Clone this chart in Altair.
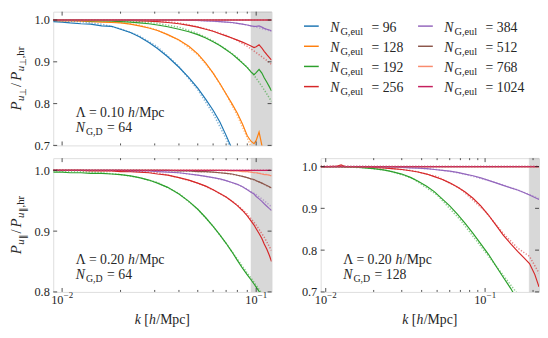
import altair as alt
import pandas as pd

NAN = float("nan")
FONT = "Liberation Serif"
INK = "#262626"

SERIES = ["96", "128", "192", "256", "384", "512", "768", "1024"]
COLORS = ["#1f77b4", "#ff7f0e", "#2ca02c", "#d62728", "#9467bd", "#8c564b", "#f98b6e", "#c51f5d"]

# ---------------- k grids ----------------
K_A = [0.009, 0.010, 0.011, 0.0125, 0.014, 0.016, 0.018, 0.020, 0.0225, 0.025, 0.028, 0.031,
       0.035, 0.040, 0.045, 0.050, 0.055, 0.060, 0.065, 0.070, 0.075, 0.080, 0.085, 0.090,
       0.094, 0.0975, 0.100, 0.1035, 0.107, 0.110, 0.1135, 0.117, 0.120]
K_DOT_A = [0.009, 0.0125, 0.016, 0.02, 0.025, 0.031, 0.04, 0.05, 0.06, 0.07, 0.08, 0.09, 0.1, 0.11, 0.12]
K_FLAT_A = [0.009, 0.015, 0.03, 0.06, 0.12]

K_B = [0.0093, 0.0105, 0.0118, 0.0125, 0.0132, 0.015, 0.0175, 0.020, 0.023, 0.026, 0.030, 0.034,
       0.038, 0.043, 0.048, 0.054, 0.060, 0.067, 0.075, 0.084, 0.094, 0.105, 0.117, 0.130,
       0.145, 0.160, 0.175, 0.190, 0.205, 0.218]
K_DOT_B = [0.0093, 0.013, 0.018, 0.025, 0.035, 0.05, 0.07, 0.1, 0.13, 0.16, 0.19, 0.218]
K_FLAT_B = [0.0093, 0.02, 0.05, 0.1, 0.218]

FLAT5 = [1.0, 1.0, 1.0, 1.0, 1.0]

# ---------------- panel 1: Lambda=0.10, N_G,D=64 ----------------
P1_96 = [0.996, 0.995, 0.993, 0.991, 0.990, 0.986, 0.985, 0.978, 0.970, 0.960, 0.946, 0.932,
         0.912, 0.887, 0.862, 0.837, 0.810, 0.784, 0.756, 0.724, 0.692, NAN, NAN, NAN,
         NAN, NAN, NAN, NAN, NAN, NAN, NAN, NAN, NAN]
P1_128 = [0.999, 0.998, 0.998, 0.997, 0.996, 0.995, 0.994, 0.993, 0.990, 0.986, 0.981, 0.975,
          0.965, 0.952, 0.937, 0.919, 0.897, 0.873, 0.848, 0.823, 0.800, 0.777, 0.751, 0.723,
          0.710, 0.704, 0.712, 0.732, 0.700, 0.684, NAN, NAN, NAN]
P1_192 = [1.000, 1.000, 0.999, 0.999, 0.998, 0.998, 0.997, 0.996, 0.995, 0.993, 0.991, 0.988,
          0.984, 0.978, 0.972, 0.965, 0.957, 0.948, 0.939, 0.929, 0.919, 0.908, 0.897, 0.886,
          0.876, 0.869, 0.874, 0.882, 0.873, 0.862, 0.851, 0.840, 0.830]
P1_256 = [1.000, 1.000, 1.000, 1.000, 1.000, 0.999, 0.999, 0.999, 0.999, 0.998, 0.997, 0.996,
          0.994, 0.991, 0.987, 0.983, 0.978, 0.973, 0.967, 0.962, 0.957, 0.952, 0.947, 0.942,
          0.938, 0.934, 0.936, 0.941, 0.933, 0.925, 0.917, 0.910, 0.904]
P1_384 = [1.000, 1.000, 1.000, 1.000, 1.000, 1.000, 1.000, 1.000, 1.000, 1.000, 1.000, 1.000,
          1.000, 1.000, 0.999, 0.999, 0.998, 0.997, 0.996, 0.995, 0.994, 0.992, 0.990, 0.988,
          0.986, 0.985, 0.985, 0.986, 0.983, 0.980, 0.978, 0.976, 0.974]

P1D_96 = [0.999, 0.996, 0.990, 0.979, 0.962, 0.936, 0.889, 0.833, 0.776, 0.716, 0.655, NAN, NAN, NAN, NAN]
P1D_128 = [1.000, 0.999, 0.997, 0.994, 0.988, 0.976, 0.952, 0.917, 0.873, 0.823, 0.771, 0.718, 0.665, NAN, NAN]
P1D_192 = [1.000, 1.000, 0.999, 0.998, 0.996, 0.992, 0.983, 0.968, 0.950, 0.930, 0.910, 0.887, 0.861, 0.833, 0.805]
P1D_256 = [1.000, 1.000, 1.000, 1.000, 0.999, 0.998, 0.993, 0.984, 0.974, 0.963, 0.951, 0.937, 0.922, 0.908, 0.894]
P1D_384 = [1.000, 1.000, 1.000, 1.000, 1.000, 1.000, 1.000, 0.999, 0.997, 0.995, 0.992, 0.988, 0.983, 0.978, 0.973]

# ---------------- panel 2: Lambda=0.20, N_G,D=64 ----------------
P2_192 = [0.997, 0.997, 0.996, 0.996, 0.995, 0.995, 0.994, 0.993, 0.991, 0.988, 0.984, 0.979,
          0.972, 0.961, 0.949, 0.936, 0.922, 0.908, 0.894, 0.880, 0.866, 0.852, 0.839, 0.828,
          0.820, 0.813, 0.808, 0.801, 0.794, 0.787, NAN, NAN, NAN]
P2_256 = [1.000, 1.000, 1.000, 1.000, 0.999, 0.999, 0.999, 0.998, 0.998, 0.997, 0.996, 0.994,
          0.992, 0.988, 0.984, 0.979, 0.974, 0.968, 0.962, 0.956, 0.949, 0.942, 0.934, 0.925,
          0.917, 0.910, 0.904, 0.896, 0.888, 0.879, 0.870, 0.860, 0.850]
P2_384 = [1.000, 1.000, 1.000, 1.000, 1.000, 1.000, 1.000, 1.000, 0.999, 0.999, 0.999, 0.998,
          0.997, 0.996, 0.994, 0.992, 0.990, 0.988, 0.986, 0.983, 0.980, 0.977, 0.973, 0.968,
          0.964, 0.961, 0.957, 0.953, 0.949, 0.945, 0.941, 0.937, 0.934]
P2_512 = [1.000, 1.000, 1.000, 1.000, 1.000, 1.000, 1.000, 1.000, 1.000, 1.000, 1.000, 1.000,
          1.000, 0.999, 0.999, 0.998, 0.998, 0.997, 0.996, 0.995, 0.994, 0.992, 0.990, 0.988,
          0.986, 0.985, 0.983, 0.981, 0.979, 0.977, 0.975, 0.973, 0.971]
P2_768 = [1.000, 1.000, 1.000, 1.000, 1.000, 1.000, 1.000, 1.000, 1.000, 1.000, 1.000, 1.000,
          1.000, 1.000, 1.000, 1.000, 1.000, 1.000, 1.000, 1.000, 0.999, 0.999, 0.998, 0.998,
          0.997, 0.996, 0.996, 0.995, 0.994, 0.993, 0.993, 0.992, 0.991]

P2D_192 = [0.999, 0.998, 0.996, 0.993, 0.988, 0.980, 0.962, 0.936, 0.908, 0.880, 0.854, 0.831, 0.811, 0.792, NAN]
P2D_256 = [1.000, 1.000, 0.999, 0.999, 0.998, 0.996, 0.988, 0.979, 0.968, 0.956, 0.943, 0.928, 0.910, 0.890, 0.868]
P2D_384 = [1.000, 1.000, 1.000, 1.000, 1.000, 0.999, 0.996, 0.992, 0.988, 0.983, 0.977, 0.969, 0.960, 0.950, 0.940]
P2D_512 = [1.000, 1.000, 1.000, 1.000, 1.000, 1.000, 0.999, 0.998, 0.997, 0.995, 0.992, 0.988, 0.983, 0.977, 0.970]
P2D_768 = [1.000, 1.000, 1.000, 1.000, 1.000, 1.000, 1.000, 1.000, 1.000, 0.999, 0.999, 0.998, 0.996, 0.994, 0.992]

# ---------------- panel 3: Lambda=0.20, N_G,D=128 ----------------
P3_192 = [1.000, 1.000, 1.000, 1.000, 0.999, 0.999, 0.997, 0.995, 0.992, 0.988, 0.982, 0.974,
          0.965, 0.953, 0.940, 0.922, 0.906, 0.886, 0.864, 0.840, 0.815, 0.790, 0.762, 0.735,
          0.708, 0.680, NAN, NAN, NAN, NAN]
P3_256 = [1.000, 1.000, 1.001, 1.004, 1.000, 1.000, 0.999, 0.998, 0.997, 0.995, 0.993, 0.990,
          0.987, 0.982, 0.976, 0.969, 0.961, 0.951, 0.939, 0.924, 0.906, 0.884, 0.860, 0.836,
          0.815, 0.797, 0.782, 0.768, 0.742, 0.712]
P3_384 = [1.000, 1.000, 1.000, 1.000, 1.000, 1.000, 1.000, 1.000, 0.999, 0.999, 0.998, 0.997,
          0.996, 0.995, 0.993, 0.991, 0.989, 0.986, 0.982, 0.978, 0.973, 0.967, 0.961, 0.955,
          0.949, 0.944, 0.938, 0.932, 0.926, 0.921]

P3D_192 = [1.000, 0.999, 0.997, 0.990, 0.972, 0.932, 0.872, 0.796, 0.740, 0.695, NAN, NAN]
P3D_256 = [1.000, 1.000, 0.999, 0.996, 0.990, 0.976, 0.947, 0.893, 0.840, 0.805, 0.785, 0.745]
P3D_384 = [1.000, 1.000, 1.000, 0.999, 0.997, 0.993, 0.984, 0.969, 0.956, 0.944, 0.933, 0.923]

X_MAJOR = [0.01, 0.1]
X_LABEL_BASE = ["10", "10"]
X_LABEL_EXP = ["−2", "−1"]
X_MINOR_A = [0.02, 0.03, 0.04, 0.05, 0.06, 0.07, 0.08, 0.09]
X_MINOR_B = [0.02, 0.03, 0.04, 0.05, 0.06, 0.07, 0.08, 0.09, 0.2]
Y_TICKS_A = [0.7, 0.8, 0.9, 1.0]
Y_TICKS_B = [0.8, 0.9, 1.0]

# ---------------- helpers ----------------
CW = {"0": .5, "1": .5, "2": .5, "3": .5, "4": .5, "5": .5, "6": .5, "7": .5, "8": .5, "9": .5,
      ".": .25, " ": .25, "=": .564, "Λ": .722, "h": .5, "/": .278, "M": .889, "p": .5, "c": .444,
      "N": .667, "G": .722, ",": .25, "e": .444, "u": .5, "l": .278, "D": .722, "k": .444,
      "[": .333, "]": .333, "P": .611, "r": .333, "⊥": .75, "∥": .45}


def tw(s, size):
    return size * sum(CW.get(c, .5) for c in s)


def long_df(entries):
    rows = []
    for s, ks, vs in entries:
        for k, v in zip(ks, vs):
            if v == v:
                rows.append({"k": k, "v": v, "s": s})
    return pd.DataFrame(rows)


def text_layer(t, x, y, size, italic=False, angle=0):
    kw = dict(align="left", baseline="alphabetic", font=FONT, fontSize=size, color=INK)
    if italic:
        kw["fontStyle"] = "italic"
    if angle:
        kw["angle"] = angle
    return alt.Chart(pd.DataFrame({"t": [t]})).mark_text(**kw).encode(
        text="t:N", x=alt.value(x), y=alt.value(y))


def hrun(pieces, x0, y0, center=False):
    total = sum(tw(t, s) + g for t, s, it, d, g in pieces)
    x = x0 - total / 2 if center else x0
    out = []
    for t, s, it, d, g in pieces:
        out.append(text_layer(t, x, y0 + d, s, it))
        x += tw(t, s) + g
    return out


def vrun(pieces, xb, yc):
    total = sum(tw(t, s) + g for t, s, it, d, g in pieces)
    y = yc + total / 2
    out = []
    for t, s, it, d, g in pieces:
        out.append(text_layer(t, xb + d, y, s, it, angle=270))
        y -= tw(t, s) + g
    return out


def build_panel(solid, dotted, kdom, ydom, band, yticks, xminor, lam, ngd, ysym,
                show_xlab, W, H):
    xs = alt.Scale(type="log", domain=kdom, nice=False)
    ys = alt.Scale(domain=ydom, nice=False, zero=False)
    cs = alt.Scale(domain=SERIES, range=COLORS)
    xaxis = alt.Axis(values=X_MAJOR, ticks=False, domain=False, grid=False, title=None,
                     labels=False)
    yaxis = alt.Axis(values=yticks, format=".1f", ticks=False, domain=False,
                     grid=False, title=None, labelFont=FONT, labelFontSize=12.5,
                     labelColor=INK, labelPadding=4, labelFlush=False, labelOverlap=False)
    X = lambda f: alt.X(f, scale=xs, axis=xaxis)
    Y = lambda f: alt.Y(f, scale=ys, axis=yaxis)
    layers = []
    band_df = pd.DataFrame({"k1": [band[0]], "k2": [band[1]], "y1": [ydom[0]], "y2": [ydom[1]]})
    layers.append(alt.Chart(band_df).mark_rect(color="#808080", opacity=0.3,
                                                stroke="#808080", strokeWidth=1, strokeOpacity=0.35).encode(
        x=X("k1:Q"), x2="k2:Q", y=Y("y1:Q"), y2="y2:Q"))
    layers.append(alt.Chart(long_df(solid)).mark_line(strokeWidth=1.2, clip=True).encode(
        x=X("k:Q"), y=Y("v:Q"),
        color=alt.Color("s:N", scale=cs, legend=None),
        order=alt.Order("k:Q")))
    layers.append(alt.Chart(long_df(dotted)).mark_line(
        strokeWidth=1.5, strokeDash=[1.3, 1.7], opacity=0.55, clip=True).encode(
        x=X("k:Q"), y=Y("v:Q"),
        color=alt.Color("s:N", scale=cs, legend=None),
        order=alt.Order("k:Q")))
    # inward ticks
    xmaj = pd.DataFrame({"k": X_MAJOR})
    xmin = pd.DataFrame({"k": xminor})
    ydf = pd.DataFrame({"v": yticks})
    for df, ln in ((xmaj, 4), (xmin, 2)):
        for y0, y1 in ((H, H - ln), (0, ln)):
            layers.append(alt.Chart(df).mark_rule(color=INK, strokeWidth=0.8).encode(
                x=X("k:Q"), y=alt.value(y0), y2=alt.value(y1)))
    for x0, x1 in ((0, 4), (W, W - 4)):
        layers.append(alt.Chart(ydf).mark_rule(color=INK, strokeWidth=0.8).encode(
            y=Y("v:Q"), x=alt.value(x0), x2=alt.value(x1)))
    # x tick labels 10^-2, 10^-1
    if show_xlab:
        xl = pd.DataFrame({"k": X_MAJOR, "b": X_LABEL_BASE, "e": X_LABEL_EXP})
        layers.append(alt.Chart(xl).mark_text(align="right", baseline="alphabetic", font=FONT,
                                              fontSize=12.5, color=INK, dx=1.4).encode(
            x=X("k:Q"), y=alt.value(H + 12), text="b:N"))
        layers.append(alt.Chart(xl).mark_text(align="left", baseline="alphabetic", font=FONT,
                                              fontSize=9, color=INK, dx=1.6).encode(
            x=X("k:Q"), y=alt.value(H + 6.5), text="e:N"))
    # annotations
    layers += hrun([("Λ = " + lam, 14, False, 0, 3.5), ("h", 14, True, 0, 0.5),
                    ("/Mpc", 14, False, 0, 0)], 23, H - 28.5)
    layers += hrun([("N", 14, True, 0, 1), ("G,D", 10, False, 3, 4.5),
                    ("= " + ngd, 14, False, 0, 0)], 23, H - 13.5)
    if ysym:
        layers += vrun([("P", 15, True, 0, 0.5), ("u", 11, True, 3, 0), (ysym, 9, False, 5.5, 2),
                        ("/", 15, False, 0, 2),
                        ("P", 15, True, 0, 0.5), ("u", 11, True, 3, 0), (ysym, 9, False, 5.5, 1),
                        (",hr", 11, False, 3, 0)], -33, H / 2)
    if show_xlab:
        layers += hrun([("k", 14, True, 0, 3.5), ("[", 14, False, 0, 0), ("h", 14, True, 0, 0.5),
                        ("/Mpc]", 14, False, 0, 0)], W / 2, H + 32.5, center=True)
    return alt.layer(*layers).properties(width=W, height=H)


def build_legend(W, H):
    n = len(SERIES)
    df = pd.DataFrame({"s": SERIES, "col": [i // 4 for i in range(n)],
                       "row": [i % 4 for i in range(n)],
                       "lab": ["= " + s for s in SERIES]})
    cs = alt.Scale(domain=SERIES, range=COLORS)
    xs = alt.X("col:Q", scale=alt.Scale(domain=[0, 1], range=[0, 116]), axis=None)
    ys = alt.Y("row:Q", scale=alt.Scale(domain=[0, 3], range=[14.7, 76.2]), axis=None)
    base = alt.Chart(df)
    sw = base.mark_rule(strokeWidth=1.5, xOffset=-17, x2Offset=-2).encode(
        x=xs, x2="col:Q", y=ys, color=alt.Color("s:N", scale=cs, legend=None))
    tn = base.mark_text(align="left", baseline="alphabetic", font=FONT, fontSize=14,
                        fontStyle="italic", color=INK, dx=9.7, dy=5.8).encode(
        x=xs, y=ys, text=alt.value("N"))
    tsub = base.mark_text(align="left", baseline="alphabetic", font=FONT, fontSize=10.5,
                          color=INK, dx=20, dy=8.8).encode(x=xs, y=ys, text=alt.value("G,eul"))
    teq = base.mark_text(align="left", baseline="alphabetic", font=FONT, fontSize=14,
                         color=INK, dx=51.7, dy=5.8).encode(x=xs, y=ys, text="lab:N")
    return alt.layer(sw, tn, tsub, teq).properties(
        width=W, height=H, view=alt.ViewBackground(stroke="transparent"))


W, H = 222, 136

flat_a = [("512", K_FLAT_A, FLAT5), ("768", K_FLAT_A, FLAT5), ("1024", K_FLAT_A, FLAT5)]
p1 = build_panel(
    [("96", K_A, P1_96), ("128", K_A, P1_128), ("192", K_A, P1_192), ("256", K_A, P1_256),
     ("384", K_A, P1_384)] + flat_a,
    [("96", K_DOT_A, P1D_96), ("128", K_DOT_A, P1D_128), ("192", K_DOT_A, P1D_192),
     ("256", K_DOT_A, P1D_256), ("384", K_DOT_A, P1D_384)] + flat_a,
    [0.009, 0.12], [0.7, 1.02], [0.094, 0.12], Y_TICKS_A, X_MINOR_A,
    "0.10", "64", "⊥", False, W, H)

p2 = build_panel(
    [("192", K_A, P2_192), ("256", K_A, P2_256), ("384", K_A, P2_384), ("512", K_A, P2_512),
     ("768", K_A, P2_768), ("1024", K_FLAT_A, FLAT5)],
    [("192", K_DOT_A, P2D_192), ("256", K_DOT_A, P2D_256), ("384", K_DOT_A, P2D_384),
     ("512", K_DOT_A, P2D_512), ("768", K_DOT_A, P2D_768), ("1024", K_FLAT_A, FLAT5)],
    [0.009, 0.12], [0.8, 1.02], [0.094, 0.12], Y_TICKS_B, X_MINOR_A,
    "0.20", "64", "∥", True, W, H)

flat_b = [("512", K_FLAT_B, FLAT5), ("768", K_FLAT_B, FLAT5), ("1024", K_FLAT_B, FLAT5)]
p3 = build_panel(
    [("192", K_B, P3_192), ("256", K_B, P3_256), ("384", K_B, P3_384)] + flat_b,
    [("192", K_DOT_B, P3D_192), ("256", K_DOT_B, P3D_256), ("384", K_DOT_B, P3D_384)] + flat_b,
    [0.0093, 0.218], [0.7, 1.02], [0.189, 0.218], Y_TICKS_A, X_MINOR_B,
    "0.20", "128", None, True, W, H)

leg = build_legend(W, H)

chart = alt.concat(p1, leg, p2, p3, columns=2, spacing={"row": 13, "column": 50},
                   bounds="flush").properties(
    padding={"left": 0, "top": 0, "right": 0, "bottom": 0}
).configure_view(stroke=INK, strokeWidth=1).configure(font=FONT)

chart.save("out.html", embed_options={"renderer": "svg", "actions": False})
